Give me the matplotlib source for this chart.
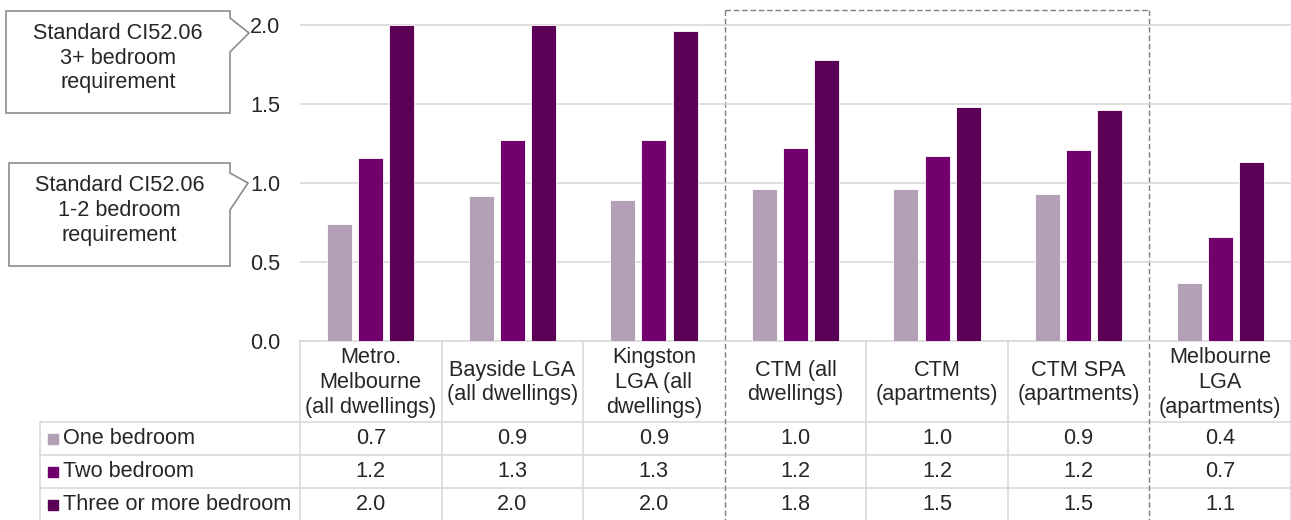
import matplotlib
matplotlib.use("Agg")
import matplotlib.pyplot as plt
from matplotlib.patches import Rectangle, Polygon
from matplotlib.transforms import blended_transform_factory
import numpy as np

plt.rcParams['font.family'] = ['Liberation Sans', 'DejaVu Sans']

categories = ["Metro.\nMelbourne\n(all dwellings)", "Bayside LGA\n(all dwellings)",
              "Kingston\nLGA (all\ndwellings)", "CTM (all\ndwellings)",
              "CTM\n(apartments)", "CTM SPA\n(apartments)", "Melbourne\nLGA\n(apartments)"]
series_names = ["One bedroom", "Two bedroom", "Three or more bedroom"]
one_bed = [0.74, 0.92, 0.89, 0.96, 0.96, 0.93, 0.37]
two_bed = [1.16, 1.27, 1.27, 1.22, 1.17, 1.21, 0.66]
three_bed = [2.00, 2.00, 1.96, 1.78, 1.48, 1.46, 1.13]
series = [one_bed, two_bed, three_bed]
colors = ["#B3A0B6", "#72006C", "#5A0055"]
yticks = [0.0, 0.5, 1.0, 1.5, 2.0]
callouts = ["Standard CI52.06\n3+ bedroom\nrequirement",
            "Standard CI52.06\n1-2 bedroom\nrequirement"]

W, H = 1291, 520
fig = plt.figure(figsize=(W / 100, H / 100), dpi=100)
txt = "#262626"
fs = 15.6
ls = 1.23

# overlay axes in pixel coords
ov = fig.add_axes([0, 0, 1, 1], zorder=0)
ov.set_xlim(0, W)
ov.set_ylim(H, 0)
ov.axis("off")

ax = fig.add_axes([300 / W, (H - 341) / H, (W - 300) / W, (341 - 17) / H], zorder=1)
ax.patch.set_alpha(0)
ax.set_ylim(0, 2.05)
ax.set_xlim(-0.5, len(categories) - 0.5)
x = np.arange(len(categories))
bw = 0.177
step = 0.22
for k, (vals, c) in enumerate(zip(series, colors)):
    ax.bar(x + (k - 1) * step, vals, width=bw, color=c, edgecolor="white",
           linewidth=0.6, zorder=3)
ax.set_yticks(yticks)
ax.set_yticklabels([f"{v:.1f}" for v in yticks], fontsize=fs, color=txt)
ax.set_xticks([])
ax.tick_params(axis="y", length=0, pad=14)
ax.yaxis.grid(True, color="#D9D9D9", linewidth=1.2, zorder=0)
for s in ax.spines.values():
    s.set_visible(False)

# table
bt = blended_transform_factory(ax.transData, ov.transData)
grid_c = "#D9D9D9"
n = len(categories)
y_head_top, y_head_bot = 341, 422
row_y = [422, 455, 488, 521]
ov.plot([300, W], [y_head_top, y_head_top], color=grid_c, lw=1.2, zorder=2)
for yy in row_y[:-1]:
    ov.plot([40, W], [yy, yy], color=grid_c, lw=1.2, zorder=2)
ov.plot([40, 40], [422, 521], color=grid_c, lw=1.2, zorder=2)
dashed_idx = [3, 6]
for i in range(n + 1):
    xv = i - 0.5
    if i in dashed_idx:
        ov.plot([xv, xv], [10, 521], color="#7F7F7F", lw=1.0,
                linestyle=(0, (4, 2)), transform=bt, zorder=4)
    else:
        ov.plot([xv, xv], [y_head_top, 521], color=grid_c, lw=1.2,
                transform=bt, zorder=2)
ov.plot([dashed_idx[0] - 0.5, dashed_idx[1] - 0.5], [10, 10], color="#7F7F7F",
        lw=1.0, linestyle=(0, (4, 2)), transform=bt, zorder=4)

for i, cat in enumerate(categories):
    ov.text(i, (y_head_top + y_head_bot) / 2 + 1, cat, transform=bt, ha="center",
            va="center", fontsize=fs, color=txt, linespacing=ls)
for r, (name, vals, c) in enumerate(zip(series_names, series, colors)):
    yc = (row_y[r] + row_y[r + 1]) / 2
    ov.add_patch(Rectangle((48, yc - 4.5), 9.5, 9.5, color=c, zorder=3))
    ov.text(63, yc, name, ha="left", va="center", fontsize=fs, color=txt)
    for i, v in enumerate(vals):
        ov.text(i, yc, f"{v:.1f}", transform=bt, ha="center", va="center",
                fontsize=fs, color=txt)

# callouts
boxes = [
    [(6, 11), (230, 11), (230, 18), (249, 33), (230, 52), (230, 113), (6, 113)],
    [(9, 163), (230, 163), (230, 173), (248, 183), (230, 210), (230, 266), (9, 266)],
]
for verts, label in zip(boxes, callouts):
    ov.add_patch(Polygon(verts, closed=True, facecolor="white",
                         edgecolor="#8C8C8C", lw=1.2, zorder=5))
    xs = [v[0] for v in verts]
    ys = [v[1] for v in verts]
    ov.text((min(xs) + 230) / 2, (min(ys) + max(ys)) / 2 - 4, label, ha="center",
            va="center", fontsize=fs, color=txt, linespacing=ls, zorder=6)

fig.savefig("out.png", dpi=100)
